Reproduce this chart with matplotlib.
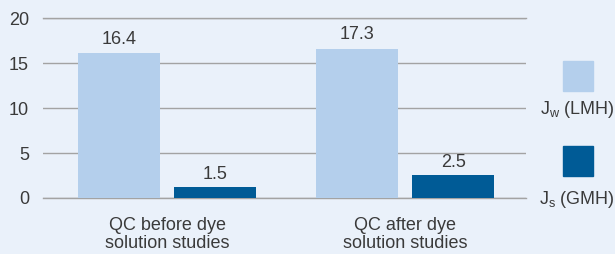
import matplotlib.pyplot as plt
import numpy as np
from matplotlib.patches import Rectangle

plt.rcParams['font.family'] = ['Liberation Sans', 'DejaVu Sans']
plt.rcParams['mathtext.fontset'] = 'custom'
plt.rcParams['mathtext.rm'] = 'Liberation Sans'
plt.rcParams['mathtext.it'] = 'Liberation Sans'

categories = ['QC before dye\nsolution studies', 'QC after dye\nsolution studies']
jw_values = [16.1, 16.6]
js_values = [1.2, 2.5]
jw_labels = ['16.4', '17.3']
js_labels = ['1.5', '2.5']
series_names = ['J$_\\mathrm{w}$ (LMH)', 'J$_\\mathrm{s}$ (GMH)']

bg = '#EAF1FA'
light = '#B4CFEC'
dark = '#005B96'
txt = '#3A3A3A'
grid = '#A3A3A3'
fs = 13

fig = plt.figure(figsize=(6.15, 2.54), dpi=100, facecolor=bg)
ax = fig.add_axes([0.0699, 0.2205, 0.7854, 0.7085], facecolor=bg)

x = np.arange(len(categories))
w = 0.345
off = 0.2017
b1 = ax.bar(x - off, jw_values, w, color=light, zorder=3)
b2 = ax.bar(x + off, js_values, w, color=dark, zorder=3)
ax.bar_label(b1, labels=jw_labels, padding=4, fontsize=fs, color=txt)
ax.bar_label(b2, labels=js_labels, padding=3, fontsize=fs, color=txt)

ax.set_xlim(-0.521, 1.508)
ax.set_ylim(0, 20)
ax.set_yticks([0, 5, 10, 15, 20])
ax.set_xticks(x)
ax.set_xticklabels(categories, fontsize=fs, color=txt, linespacing=1.05)
ax.tick_params(axis='y', length=0, pad=10, labelsize=fs, labelcolor=txt)
ax.tick_params(axis='x', length=0, pad=14)
ax.yaxis.grid(True, color=grid, linewidth=1.0, zorder=0)
ax.axhline(0, color=grid, linewidth=1.0, clip_on=False, zorder=1)
ax.axhline(20, color=grid, linewidth=1.0, clip_on=False, zorder=1)
ax.set_axisbelow(True)
for s in ax.spines.values():
    s.set_visible(False)

# legend: square above label
for i, (name, col) in enumerate(zip(series_names, [light, dark])):
    y0 = 1 - (91 + 85 * i) / 254
    fig.add_artist(Rectangle((563 / 615, y0), 30 / 615, 30 / 254,
                             transform=fig.transFigure, color=col))
    fig.text(577 / 615, 1 - (110 + 89 * i) / 254, name, ha='center', va='center',
             fontsize=fs, color=txt)

fig.savefig('out.png', dpi=100, facecolor=bg)
